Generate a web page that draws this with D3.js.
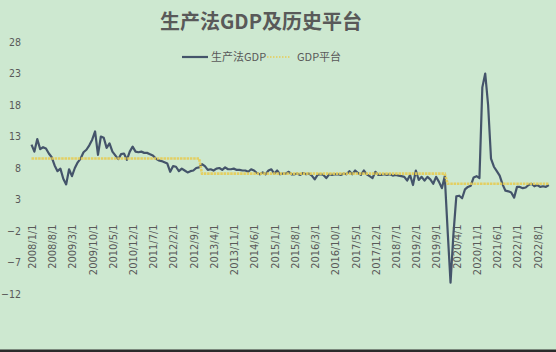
<!DOCTYPE html>
<meta charset="utf-8">
<style>
body { margin: 0; }
svg { display: block; }
text { font-family: "Liberation Sans", Arial, "Noto Sans CJK SC", sans-serif; fill: #595959; }
.title { font: bold 20px "Noto Sans CJK SC", sans-serif; fill: #595959; }
.legend text { font: 11px "Noto Sans CJK SC", sans-serif; }
.axis text { font-size: 10.5px; font-family: "Liberation Sans Narrow", "DejaVu Sans Condensed", "Liberation Sans", sans-serif; }
.axis path, .axis line { display: none; }
</style>
<svg width="556" height="352"></svg>
<script src="https://cdn.jsdelivr.net/npm/d3@7"></script>
<script>

// monthly production-method GDP, one row per year (Jan..Dec)
var gdp2008 = [11.7, 10.6, 12.6, 11.0, 11.3, 11.1, 10.3, 9.7, 8.4, 7.5, 7.9, 6.3];
var gdp2009 = [5.4, 7.8, 6.7, 8.0, 8.9, 9.5, 10.5, 10.9, 11.6, 12.5, 13.8, 10.1];
var gdp2010 = [13.0, 12.8, 11.2, 11.9, 10.6, 10.0, 9.4, 10.2, 10.3, 9.3, 10.6, 11.4];
var gdp2011 = [10.6, 10.5, 10.6, 10.4, 10.4, 10.2, 10.0, 9.5, 9.2, 9.1, 8.9, 8.7];
var gdp2012 = [7.4, 8.3, 8.2, 7.5, 7.9, 7.6, 7.3, 7.5, 7.6, 8.0, 8.1, 8.6];
var gdp2013 = [8.3, 7.7, 7.8, 7.6, 7.9, 8.0, 7.7, 8.1, 7.8, 7.8, 7.9, 7.7];
var gdp2014 = [7.7, 7.6, 7.6, 7.4, 7.8, 7.6, 7.2, 7.0, 7.3, 7.0, 7.6, 7.8];
var gdp2015 = [7.1, 7.6, 7.0, 7.1, 7.1, 7.4, 7.0, 7.0, 7.1, 6.9, 7.2, 7.0];
var gdp2016 = [7.1, 6.8, 6.2, 6.9, 7.0, 6.9, 6.4, 7.0, 6.9, 7.0, 7.0, 6.9];
var gdp2017 = [7.1, 7.0, 7.5, 7.0, 7.6, 7.2, 6.9, 7.6, 7.0, 6.7, 6.4, 7.4];
var gdp2018 = [6.9, 6.9, 7.0, 6.9, 7.0, 6.8, 6.9, 6.8, 6.7, 6.6, 6.0, 6.9];
var gdp2019 = [5.3, 7.6, 6.1, 6.6, 6.0, 6.6, 6.2, 5.5, 6.6, 5.8, 4.8, 6.7];
var gdp2020 = [-2.0, -10.2, -2.5, 3.5, 3.6, 3.2, 4.6, 5.0, 5.2, 6.5, 6.7, 6.4];
var gdp2021 = [20.8, 23.0, 18.0, 9.5, 8.2, 7.5, 6.8, 5.4, 4.4, 4.3, 4.1, 3.3];
var gdp2022 = [5.0, 5.0, 4.8, 4.9, 5.3, 5.5, 5.1, 5.3, 5.0, 5.1, 5.0, 5.3];

// historical platforms: level held between two months
var platformFrom = ["2008/1/1", "2012/12/1", "2020/1/1"];
var platformTo = ["2012/11/1", "2019/12/1", "2022/12/1"];
var platformLevel = [9.5, 7.1, 5.5];

var xTicks = ["2008/1/1", "2008/8/1", "2009/3/1", "2009/10/1", "2010/5/1", "2010/12/1",
  "2011/7/1", "2012/2/1", "2012/9/1", "2013/4/1", "2013/11/1", "2014/6/1", "2015/1/1",
  "2015/8/1", "2016/3/1", "2016/10/1", "2017/5/1", "2017/12/1", "2018/7/1", "2019/2/1",
  "2019/9/1", "2020/4/1", "2020/11/1", "2021/6/1", "2022/1/1", "2022/8/1"];
var yTicks = [28, 23, 18, 13, 8, 3, -2, -7, -12];

var gdp = [].concat(gdp2008, gdp2009, gdp2010, gdp2011, gdp2012, gdp2013, gdp2014,
  gdp2015, gdp2016, gdp2017, gdp2018, gdp2019, gdp2020, gdp2021, gdp2022);

var months = [];
for (var yr = 2008; yr <= 2022; yr++)
  for (var m = 1; m <= 12; m++) months.push(yr + "/" + m + "/1");

var platform = months.map(function(d) {
  var i = months.indexOf(d), v = null;
  platformFrom.forEach(function(f, k) {
    if (i >= months.indexOf(f) && i <= months.indexOf(platformTo[k])) v = platformLevel[k];
  });
  return v;
});

var svg = d3.select("svg");

svg.append("rect").attr("width", 556).attr("height", 352).attr("fill", "#cde8d0");
svg.append("rect").attr("x", 0).attr("y", 349.5).attr("width", 556).attr("height", 2.5).attr("fill", "#2b2b2b");

var x = d3.scalePoint().domain(months).range([31.5, 548.8]);
var y = d3.scaleLinear().domain([-12, 28]).range([294, 42]);

svg.append("text").attr("class", "title")
  .attr("x", 261).attr("y", 29).attr("text-anchor", "middle")
  .text("生产法GDP及历史平台");

// y axis
svg.append("g").attr("class", "axis")
  .attr("transform", "translate(22,0)")
  .call(d3.axisLeft(y).tickValues(yTicks).tickSize(0).tickPadding(1));

// x axis crossing at 0
svg.append("g").attr("class", "axis")
  .attr("transform", "translate(0," + y(0) + ")")
  .call(d3.axisBottom(x).tickValues(xTicks).tickSize(0))
  .selectAll("text")
  .attr("x", -6).attr("y", 0).attr("dy", "0.35em")
  .attr("transform", "rotate(-90)")
  .style("text-anchor", "end")
  .style("font-size", "11px");

var line = d3.line()
  .defined(function(d) { return d[1] != null; })
  .x(function(d) { return x(d[0]); })
  .y(function(d) { return y(d[1]); });

svg.append("path")
  .datum(months.map(function(d, i) { return [d, gdp[i]]; }))
  .attr("d", line)
  .attr("fill", "none")
  .attr("stroke", "#44546a")
  .attr("stroke-width", 2.2)
  .attr("stroke-linejoin", "round");

svg.append("path")
  .datum(months.map(function(d, i) { return [d, platform[i]]; }))
  .attr("d", line)
  .attr("fill", "none")
  .attr("stroke", "#e6cc55")
  .attr("stroke-width", 2.6)
  .attr("stroke-dasharray", "2.5,0.8")
  .attr("opacity", 0.9);

// legend
var legend = svg.append("g").attr("class", "legend");
legend.append("line").attr("x1", 182).attr("x2", 208).attr("y1", 57).attr("y2", 57)
  .attr("stroke", "#44546a").attr("stroke-width", 2.2);
legend.append("text").attr("x", 211).attr("y", 61).text("生产法GDP");
legend.append("line").attr("x1", 267).attr("x2", 290).attr("y1", 57).attr("y2", 57)
  .attr("stroke", "#e6cc55").attr("stroke-width", 1.5).attr("stroke-dasharray", "1.5,1.5");
legend.append("text").attr("x", 297).attr("y", 61).text("GDP平台");

</script>
